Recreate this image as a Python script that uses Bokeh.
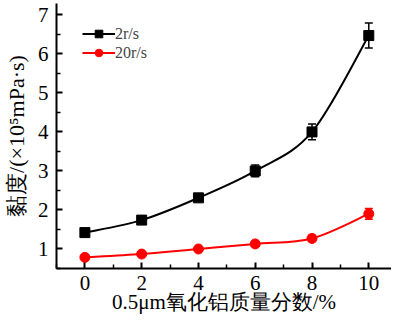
from bokeh.plotting import figure
from bokeh.models import ColumnDataSource, Whisker, TeeHead, Range1d, FixedTicker, Legend, LegendItem
from bokeh.embed import file_html
from bokeh.resources import INLINE

x_vals = [0, 2, 4, 6, 8, 10]
slow_vals = [1.42, 1.74, 2.31, 3.00, 4.00, 6.47]
slow_err = [0.04, 0.05, 0.08, 0.15, 0.20, 0.32]
fast_vals = [0.785, 0.87, 1.00, 1.13, 1.27, 1.90]
fast_err = [0.03, 0.04, 0.05, 0.06, 0.08, 0.14]
x_ticks = [0, 2, 4, 6, 8, 10]
y_ticks = [1, 2, 3, 4, 5, 6, 7]
series_names = ["2r/s", "20r/s"]
x_title = "0.5μm氧化铝质量分数/%"
y_title = "黏度/(×10⁵mPa·s)"

SERIF = "Liberation Serif"

p = figure(width=391, height=318, output_backend="svg", toolbar_location=None,
           x_range=Range1d(-1, 10.8), y_range=Range1d(0.5, 7.29),
           min_border_left=56, min_border_right=0, min_border_top=3, min_border_bottom=50)
p.outline_line_color = None
p.xgrid.visible = False
p.ygrid.visible = False


def bezier_data(xs, ys):
    n = len(xs)
    out = dict(x0=[], y0=[], x1=[], y1=[], cx0=[], cy0=[], cx1=[], cy1=[])
    for i in range(n - 1):
        im = max(i - 1, 0)
        ip2 = min(i + 2, n - 1)
        out["x0"].append(xs[i]); out["y0"].append(ys[i])
        out["x1"].append(xs[i + 1]); out["y1"].append(ys[i + 1])
        out["cx0"].append(xs[i] + (xs[i + 1] - xs[im]) / 6)
        out["cy0"].append(ys[i] + (ys[i + 1] - ys[im]) / 6)
        out["cx1"].append(xs[i + 1] - (xs[ip2] - xs[i]) / 6)
        out["cy1"].append(ys[i + 1] - (ys[ip2] - ys[i]) / 6)
    return out


items = []
for vals, errs, color, marker, size, name in [
    (slow_vals, slow_err, "black", "square", 10, series_names[0]),
    (fast_vals, fast_err, "#ff0000", "circle", 10, series_names[1]),
]:
    bz = p.bezier(source=ColumnDataSource(bezier_data(x_vals, vals)), x0="x0", y0="y0", x1="x1", y1="y1",
                  cx0="cx0", cy0="cy0", cx1="cx1", cy1="cy1", line_color=color, line_width=2)
    src = ColumnDataSource(dict(x=x_vals, y=vals,
                                lo=[v - e for v, e in zip(vals, errs)],
                                hi=[v + e for v, e in zip(vals, errs)]))
    w = Whisker(source=src, base="x", lower="lo", upper="hi", line_color=color, line_width=1.5,
                upper_head=TeeHead(size=8, line_color=color, line_width=1.5),
                lower_head=TeeHead(size=8, line_color=color, line_width=1.5))
    p.add_layout(w)
    sc = p.scatter("x", "y", source=src, marker=marker, size=size, fill_color=color, line_color=color)
    items.append(LegendItem(label=name, renderers=[bz, sc]))

legend = Legend(items=items, location=(26, 206), border_line_color=None, background_fill_alpha=0,
                label_text_font=SERIF, label_text_font_size="16px", glyph_width=33, glyph_height=19,
                label_height=19, spacing=0, padding=0, margin=0, label_standoff=0)
p.add_layout(legend)

for ax in (p.xaxis[0], p.yaxis[0]):
    ax.axis_line_width = 2
    ax.major_tick_line_width = 2
    ax.minor_tick_line_width = 1.5
    ax.major_tick_in = 6
    ax.major_tick_out = 0
    ax.minor_tick_in = 4
    ax.minor_tick_out = 0
    ax.major_label_text_font = SERIF
    ax.major_label_text_font_size = "21px"
    ax.major_label_text_color = "black"
    ax.axis_label_text_font = SERIF
    ax.axis_label_text_font_style = "normal"
    ax.axis_label_text_color = "black"

p.xaxis.ticker = FixedTicker(ticks=x_ticks, minor_ticks=[-1, 1, 3, 5, 7, 9])
p.yaxis.ticker = FixedTicker(ticks=y_ticks, minor_ticks=[0.5, 1.5, 2.5, 3.5, 4.5, 5.5, 6.5])
p.xaxis.major_label_standoff = 7
p.yaxis.major_label_standoff = 8
p.xaxis.axis_label = x_title
p.yaxis.axis_label = y_title
p.xaxis.axis_label_text_font_size = "21px"
p.yaxis.axis_label_text_font_size = "22px"
p.xaxis.axis_label_standoff = -3
p.yaxis.axis_label_standoff = 6

open("out.html", "w").write(file_html(p, INLINE))
